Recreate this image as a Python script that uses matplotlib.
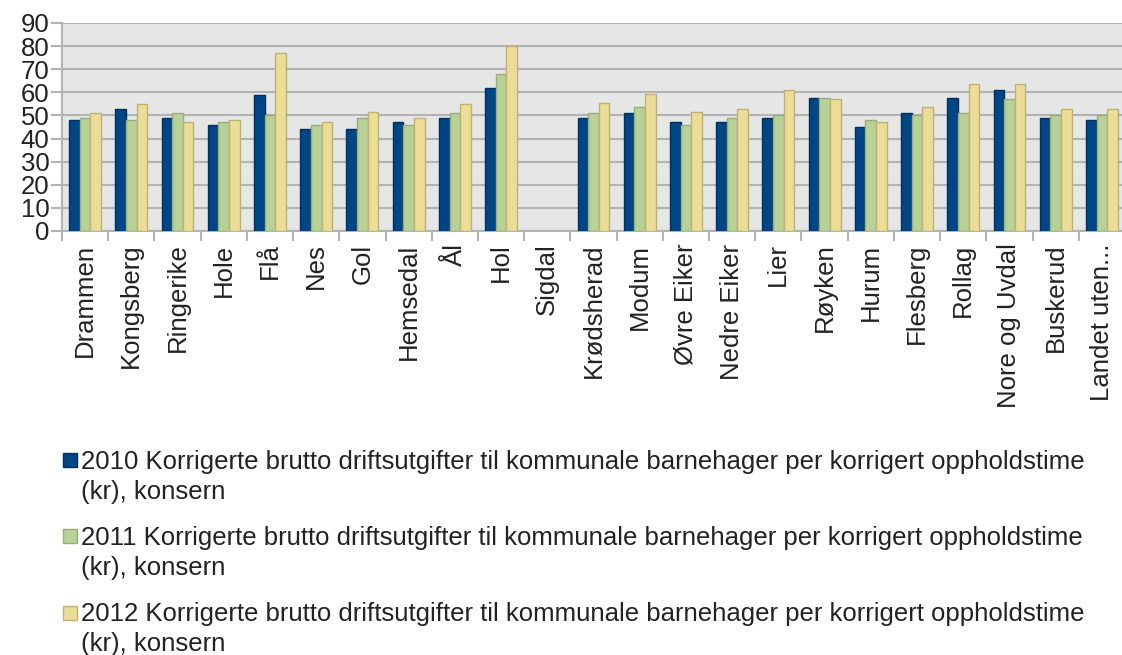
import numpy as np
import matplotlib
matplotlib.use("Agg")
import matplotlib.pyplot as plt
from matplotlib.patches import Rectangle

plt.rcParams['font.family'] = ['Liberation Sans', 'DejaVu Sans']

categories = ["Drammen", "Kongsberg", "Ringerike", "Hole", "Flå", "Nes", "Gol",
              "Hemsedal", "Ål", "Hol", "Sigdal", "Krødsherad", "Modum", "Øvre Eiker",
              "Nedre Eiker", "Lier", "Røyken", "Hurum", "Flesberg", "Rollag",
              "Nore og Uvdal", "Buskerud", "Landet uten..."]
v2010 = [48, 53, 49, 46, 59, 44, 44, 47, 49, 62, np.nan, 49, 51, 47, 47, 49, 57.6, 45, 51, 57.7, 61, 49, 48.2]
v2011 = [49, 48, 51, 47, 50, 46, 49, 46, 51, 68, np.nan, 51, 53.5, 46, 49, 50, 57.6, 48, 50, 51, 57, 50, 50]
v2012 = [51, 55, 47, 48, 77, 47, 51.5, 49, 55, 80, np.nan, 55.5, 59.4, 51.5, 53, 61, 57, 47, 53.5, 63.6, 63.6, 53, 53]
series_labels = [
    "2010 Korrigerte brutto driftsutgifter til kommunale barnehager per korrigert oppholdstime\n(kr), konsern",
    "2011 Korrigerte brutto driftsutgifter til kommunale barnehager per korrigert oppholdstime\n(kr), konsern",
    "2012 Korrigerte brutto driftsutgifter til kommunale barnehager per korrigert oppholdstime\n(kr), konsern",
]
yticks = list(range(0, 91, 10))

faces = ["#004586", "#b7d197", "#ebdd98"]
edges = ["#00305e", "#98ad7c", "#bfb171"]

W, H = 1122, 655
fig = plt.figure(figsize=(W / 100, H / 100), dpi=100)
ax = fig.add_axes([62 / W, 1 - 231 / H, (1125 - 62) / W, (231 - 23) / H])
ax.set_facecolor("#e6e6e6")

x = np.arange(len(categories))
bw = 0.23
for i, (vals, fc, ec) in enumerate(zip([v2010, v2011, v2012], faces, edges)):
    ax.bar(x + (i - 1) * bw, vals, width=bw, color=fc, edgecolor=ec, linewidth=1.0, zorder=3)

ax.set_xlim(-0.5, len(categories) - 0.5)
ax.set_ylim(0, 90)
ax.set_yticks(yticks)
ax.set_yticklabels([str(t) for t in yticks], fontsize=18.5, color="#222222")
ax.yaxis.grid(True, color="#b3b3b3", linewidth=1.5, zorder=1)
ax.set_axisbelow(True)
ax.tick_params(axis='y', length=8, color="#b3b3b3", width=1.5, pad=1)

ax.set_xticks(x)
ax.set_xticklabels(categories, rotation=90, fontsize=18.5, color="#222222", va='top')
ax.tick_params(axis='x', which='major', length=0, pad=9)
ax.set_xticks(np.arange(-0.5, len(categories) - 0.4, 1), minor=True)
ax.tick_params(axis='x', which='minor', length=7, color="#b3b3b3", width=1.5)

for s in ["top", "right"]:
    ax.spines[s].set_visible(False)
for s in ["left", "bottom"]:
    ax.spines[s].set_color("#b3b3b3")
    ax.spines[s].set_linewidth(1.5)

# legend (manual)
baselines = [469, 545, 621.5]
for yb, fc, ec, lab in zip(baselines, faces, edges, series_labels):
    fig.patches.append(Rectangle((63 / W, 1 - (yb - 2) / H), 14 / W, 14 / H,
                                 facecolor=fc, edgecolor=ec, linewidth=1,
                                 transform=fig.transFigure, figure=fig))
    for k, line in enumerate(lab.split("\n")):
        fig.text(81 / W, 1 - (yb + 29.5 * k) / H, line, fontsize=18.5, color="#222222",
                 va='baseline', ha='left')

fig.savefig("out.png", dpi=100)
